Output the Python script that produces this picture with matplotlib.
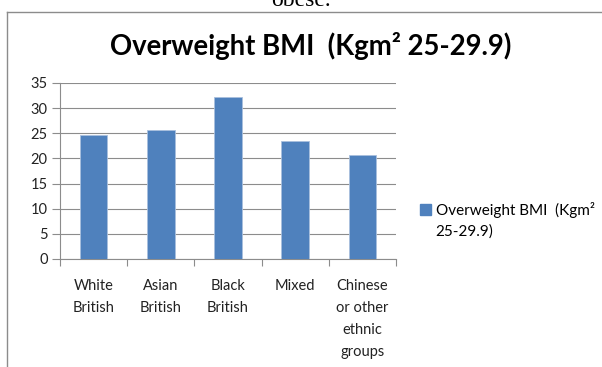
import matplotlib.pyplot as plt
from matplotlib.lines import Line2D
from matplotlib.patches import Patch

categories = ['White\nBritish', 'Asian\nBritish', 'Black\nBritish', 'Mixed',
              'Chinese\nor other\nethnic\ngroups']
values = [24.7, 25.6, 32.3, 23.5, 20.6]
series_name = 'Overweight BMI  (Kgm\u00b2\n25-29.9)'
title = 'Overweight BMI  (Kgm\u00b2 25-29.9)'
yticks = [0, 5, 10, 15, 20, 25, 30, 35]

BAR = '#4F81BD'
GRID = '#8c8c8c'
FONT = 'Lato'

fig = plt.figure(figsize=(6.02, 3.67), dpi=100)
fig.patch.set_facecolor('white')

ax = fig.add_axes([60 / 602, 1 - 259 / 367, 336 / 602, 176 / 367])
x = range(len(categories))
ax.bar(x, values, width=0.41, color=BAR, edgecolor='#a9c0de', linewidth=0.6,
       zorder=3)

ax.set_xlim(-0.5, len(categories) - 0.5)
ax.set_ylim(0, 35)
ax.set_yticks(yticks)
ax.set_yticklabels([str(v) for v in yticks], fontsize=10.5, family=FONT,
                   color='#222222')
ax.yaxis.grid(True, color=GRID, linewidth=0.8, zorder=0)
ax.tick_params(axis='y', length=6, width=0.8, color=GRID, pad=3)

# category ticks sit between the bars, labels in the middle
ax.set_xticks([i - 0.5 for i in range(len(categories) + 1)])
ax.set_xticklabels([])
ax.tick_params(axis='x', length=5, width=0.8, color=GRID)
for i, lab in enumerate(categories):
    ax.text(i, -3.9, lab, ha='center', va='top', fontsize=10.5, family=FONT,
            color='#222222', linespacing=1.75)

for side in ['top', 'right']:
    ax.spines[side].set_visible(False)
for side in ['left', 'bottom']:
    ax.spines[side].set_color(GRID)
    ax.spines[side].set_linewidth(0.8)

fig.text(311 / 602, 1 - 46 / 367, title, ha='center', va='center',
         fontsize=19.8, fontweight='bold', family=FONT, color='black')

handle = Patch(facecolor=BAR, edgecolor=BAR)
leg = fig.legend([handle], [series_name], loc='center left',
                 bbox_to_anchor=(406 / 602, 1 - 220 / 367), frameon=False,
                 prop={'family': FONT, 'size': 11}, handlelength=0.75,
                 handleheight=0.75, handletextpad=0.3)
for t in leg.get_texts():
    t.set_linespacing(1.55)
# keep the swatch level with the first line of the label
sw = leg.legend_handles[0]
sw.set_y(sw.get_y() + 7.5)

# chart frame and the caption line above it
fig.add_artist(Line2D([7 / 602, 7 / 602], [0, 1 - 12 / 367],
                      transform=fig.transFigure, color='#8c8c8c', lw=1.0))
fig.add_artist(Line2D([7 / 602, 1], [1 - 12 / 367, 1 - 12 / 367],
                      transform=fig.transFigure, color='#8c8c8c', lw=1.0))
fig.text(301 / 602, 1 - 5.5 / 367, 'obese.', ha='center', va='baseline',
         fontsize=17, family='Liberation Serif', color='black')

fig.savefig('out.png', dpi=100, facecolor='white')
